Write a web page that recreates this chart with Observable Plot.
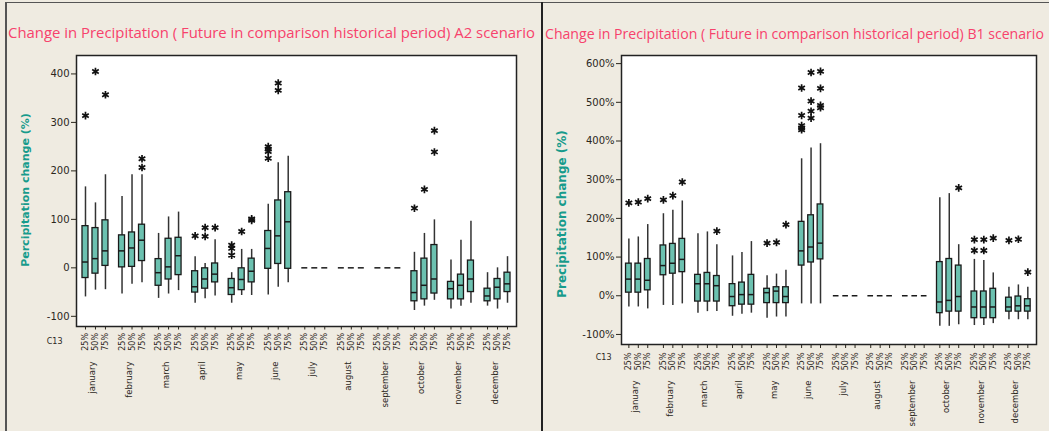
<!DOCTYPE html>
<html><head><meta charset="utf-8">
<script src="https://cdn.jsdelivr.net/npm/d3@7"></script>
<script src="https://cdn.jsdelivr.net/npm/@observablehq/plot@0.6"></script>
<style>
html,body{margin:0;padding:0;background:#efebe1;width:1049px;height:431px;overflow:hidden;}
.panel{position:absolute;top:0;height:431px;overflow:hidden;}
.panel svg{position:absolute;left:0;top:0;}
.title{position:absolute;top:24px;white-space:nowrap;font-family:"Open Sans";font-size:15px;line-height:17px;color:#f7426c;z-index:2;}
.line{position:absolute;background:#555;z-index:3;}
</style></head><body>
<div id="left" class="panel" style="left:0;width:541px"><div class="title" style="left:8px;font-size:14.9px">Change in Precipitation ( Future in comparison historical period) A2 scenario</div></div>
<div id="right" class="panel" style="left:543px;width:506px"><div class="title" style="left:2px;font-size:14.1px;top:25px">Change in Precipitation ( Future in comparison historical period) B1 scenario</div></div>
<div class="line" style="left:5px;top:2px;width:1044px;height:1px"></div>
<div class="line" style="left:5px;top:2px;width:2px;height:429px"></div>
<div class="line" style="left:541px;top:2px;width:2px;height:429px;background:#222"></div>
<script>
const months = ["january","february","march","april","may","june","july","august","september","october","november","december"];
const quantLabels = ["25%","50%","75%"];

// A2 scenario (order: month × 25%,50%,75%)
const a2Low  = [-60,-46,-45, -54,-34,-31, -63,-54,-47, -73,-64,-58, -73,-57,-57, -56,-40,-31, 0,0,0, 0,0,0, 0,0,0, -88,-79,-67, -85,-79,-73, -79,-85,-73];
const a2Q1   = [-21,-12,4, 1,2,14, -37,-24,-15, -51,-43,-30, -56,-46,-30, -2,8,-2, 0,0,0, 0,0,0, 0,0,0, -69,-65,-53, -65,-65,-50, -69,-65,-50];
const a2Med  = [12,19,35, 35,41,57, -10,2,25, -39,-23,-13, -41,-24,-7, 40,66,95, 0,0,0, 0,0,0, 0,0,0, -51,-36,-23, -43,-36,-23, -58,-40,-33];
const a2Q3   = [86,82,98, 67,73,89, 18,60,62, -7,-1,9, -23,-1,19, 76,139,156, 0,0,0, 0,0,0, 0,0,0, -7,19,47, -29,-14,15, -43,-23,-10];
const a2High = [167,134,192, 147,192,192, 71,105,115, 23,9,58, -10,38,38, 131,217,230, 0,0,0, 0,0,0, 0,0,0, 32,71,99, 16,57,96, -10,0,23];
const a2OutIdx = [0,1,2,5,5,9,10,10,11,12,12,12,13,14,14,15,15,15,15,16,16,27,28,29,29];
const a2OutVal = [314,405,357,225,207,66,83,65,83,47,40,26,75,101,98,250,245,240,226,381,366,123,162,283,239];

// B1 scenario
const b1Low  = [-29,-29,-34, -25,-25,-21, -45,-41,-41, -53,-48,-45, -58,-55,-55, -21,-21,-21, 0,0,0, 0,0,0, 0,0,0, -79,-79,-75, -77,-77,-72, -62,-62,-62];
const b1Q1   = [8,8,14, 53,57,61, -15,-15,-15, -27,-23,-23, -19,-19,-19, 78,86,94, 0,0,0, 0,0,0, 0,0,0, -45,-41,-41, -58,-58,-58, -41,-41,-41];
const b1Med  = [43,43,40, 78,84,94, 31,31,26, -2,3,3, 8,12,-2, 116,126,136, 0,0,0, 0,0,0, 0,0,0, -16,-12,-2, -29,-29,-29, -29,-26,-26];
const b1Q3   = [83,83,95, 130,134,147, 54,59,51, 30,34,54, 18,22,22, 191,208,236, 0,0,0, 0,0,0, 0,0,0, 87,95,78, 11,11,18, -5,-2,-9];
const b1High = [147,152,184, 212,221,245, 160,165,132, 103,112,140, 52,56,66, 354,382,393, 0,0,0, 0,0,0, 0,0,0, 253,264,132, 94,91,59, 22,28,22];
const b1OutIdx = [0,1,2,3,4,5,8,12,13,14,15,15,15,15,15,16,16,16,16,17,17,17,17,29,30,30,31,31,32,33,34,35];
const b1OutVal = [240,242,251,248,259,294,167,136,138,184,537,466,440,434,429,577,503,477,459,580,536,492,486,279,145,117,145,117,149,143,146,61];

const GROUP = 3.66, HALF = 0.3;
const xPos = i => Math.floor(i / 3) * GROUP + (i % 3);
const teal = "#179b8c";

function panel(o) {
  const rows = o.q1.map((_, i) => ({x: xPos(i), q1: o.q1[i], med: o.med[i], q3: o.q3[i], lo: o.lo[i], hi: o.hi[i], lab: quantLabels[i % 3]}));
  const labAt = new Map(rows.map(d => [d.x, d.lab]));
  const outs = o.outIdx.map((k, j) => ({x: xPos(k), y: o.outVal[j]}));
  return Plot.plot({
    width: o.width, height: 431,
    marginLeft: o.ml, marginRight: o.mr, marginTop: 55, marginBottom: o.mb,
    style: {fontFamily: "DejaVu Sans", fontSize: "10px", background: "transparent", color: "#2b271c", overflow: "visible"},
    x: {type: "linear", domain: o.xDomain, axis: null},
    y: {domain: o.yDomain, axis: null},
    marks: [
      Plot.frame({fill: "white", stroke: null}),
      Plot.ruleX(rows, {x: "x", y1: "lo", y2: "hi", stroke: "#333", strokeWidth: 1.5}),
      Plot.rect(rows.filter(d => d.q3 > d.q1), {x1: d => d.x - HALF, x2: d => d.x + HALF, y1: "q1", y2: "q3", fill: "#6cc1b0", stroke: "#1a1a1a", strokeWidth: 1.3}),
      Plot.ruleY(rows, {x1: d => d.x - HALF, x2: d => d.x + HALF, y: "med", stroke: "#1a1a1a", strokeWidth: 1.5}),
      Plot.dot(outs, {x: "x", y: "y", symbol: "asterisk", r: 3.6, stroke: "#111", strokeWidth: 1.7}),
      Plot.axisY({ticks: o.yTicks, tickFormat: o.yFmt, tickSize: 5, tickPadding: 2, fontSize: 10, label: null}),
      Plot.axisX({ticks: rows.map(d => d.x), tickFormat: d => labAt.get(d), tickRotate: -90, tickSize: o.tickSize, tickPadding: o.tickPad, fontSize: 8, label: null}),
      Plot.text(months, {x: (d, i) => i * GROUP + 1, frameAnchor: "bottom", dy: o.monthDy, rotate: -90, textAnchor: "end", fontSize: 8.5}),
      Plot.text(["C13"], {frameAnchor: "bottom-left", dx: o.cdx, dy: o.cdy, textAnchor: "end", fontSize: 8}),
      Plot.text([o.yLabel], {frameAnchor: "left", textAnchor: "middle", dx: o.ldx, dy: o.ldy, rotate: -90, fill: teal, fontWeight: "bold", fontSize: o.lfs, style: {letterSpacing: o.lls}}),
      Plot.frame({stroke: "#222", strokeWidth: 1.5})
    ]
  });
}

const left = panel({
  q1: a2Q1, med: a2Med, q3: a2Q3, lo: a2Low, hi: a2High, outIdx: a2OutIdx, outVal: a2OutVal,
  width: 541, ml: 76, mr: 25, mb: 105, xDomain: [-0.9, 11 * GROUP + 2.9],
  yDomain: [-121, 438], yTicks: [-100, 0, 100, 200, 300, 400], yFmt: d => String(d),
  tickSize: 3.5, tickPad: 3, monthDy: 35, cdx: -14, cdy: 17,
  yLabel: "Percipitation change (%)", ldx: -51, ldy: -1, lfs: 11, lls: "0px"
});
document.getElementById("left").appendChild(left);

const right = panel({
  q1: b1Q1, med: b1Med, q3: b1Q3, lo: b1Low, hi: b1High, outIdx: b1OutIdx, outVal: b1OutVal,
  width: 506, ml: 78, mr: 13, mb: 87, xDomain: [-0.78, 11 * GROUP + 2.92],
  yDomain: [-126, 621], yTicks: [-100, 0, 100, 200, 300, 400, 500, 600], yFmt: d => d + "%",
  tickSize: 4, tickPad: 4, monthDy: 36, cdx: -10, cdy: 15,
  yLabel: "Precipitation change (%)", ldx: -59, ldy: 14, lfs: 12, lls: "0.8px"
});
document.getElementById("right").appendChild(right);
</script>
</body></html>
